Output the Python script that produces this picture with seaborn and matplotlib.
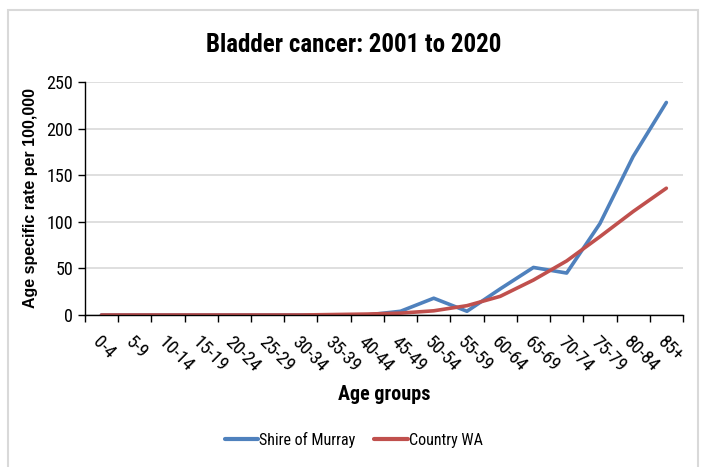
import numpy as np
import pandas as pd
import matplotlib
matplotlib.use('Agg')
import matplotlib.pyplot as plt
from matplotlib.patches import Rectangle
import seaborn as sns

# ---- data ----
age_groups = ['0-4', '5-9', '10-14', '15-19', '20-24', '25-29', '30-34', '35-39',
              '40-44', '45-49', '50-54', '55-59', '60-64', '65-69', '70-74',
              '75-79', '80-84', '85+']
shire_murray = [0, 0, 0, 0, 0, 0, 0, 0, 0, 4, 18, 4, 28, 51, 45, 98, 170, 228]
country_wa   = [0, 0, 0, 0, 0, 0, 0, 0.5, 1, 2, 4.5, 10, 20, 37.5, 58, 84, 111, 136]

series_names  = ['Shire of Murray', 'Country WA']
series_colors = ['#4F81BD', '#C0504D']

df = pd.DataFrame({'pos': list(range(len(age_groups))) * 2,
                   'rate': shire_murray + country_wa,
                   'area': [series_names[0]] * len(age_groups) + [series_names[1]] * len(age_groups)})

sns.set_theme(style='white')
narrow = ['Roboto Condensed', 'Archivo Narrow', 'Liberation Sans', 'DejaVu Sans']
plt.rcParams['font.family'] = narrow
plt.rcParams['text.color'] = 'black'
plt.rcParams['axes.labelcolor'] = 'black'
plt.rcParams['xtick.color'] = 'black'
plt.rcParams['ytick.color'] = 'black'

fig = plt.figure(figsize=(7.07, 4.67), dpi=100)
ax = fig.add_axes([0.120, 0.3255, 0.846, 0.499])

sns.lineplot(data=df, x='pos', y='rate', hue='area', hue_order=series_names,
             palette=series_colors, linewidth=2.6, ax=ax, legend=True)

ax.set_xlim(-0.5, len(age_groups) - 0.5)
ax.set_ylim(0, 250)
ax.set_yticks(np.arange(0, 251, 50))
ax.yaxis.grid(True, color='#D9D9D9', linewidth=1.2)
ax.set_axisbelow(True)
for s in ['top', 'right']:
    ax.spines[s].set_visible(False)
for s in ['left', 'bottom']:
    ax.spines[s].set_color('black')
    ax.spines[s].set_linewidth(1.0)

ax.set_xticks(range(len(age_groups)))
ax.set_xticklabels(age_groups, rotation=-45, ha='left', rotation_mode='anchor', fontsize=13.5)
ax.set_xticks(np.arange(-0.5, len(age_groups), 1), minor=True)
ax.tick_params(axis='x', which='major', length=0, pad=13)
ax.tick_params(axis='x', which='minor', length=5, width=1, color='black', direction='out', bottom=True)
ax.tick_params(axis='y', length=5, width=1, color='black', direction='out', left=True, labelsize=13)

ax.set_xlabel('Age groups', fontsize=14.5, fontweight='bold', labelpad=7)
ax.set_ylabel('Age specific rate per 100,000', fontsize=11.5, fontweight='bold',
              family=['Liberation Sans', 'DejaVu Sans'], labelpad=6)
fig.suptitle('Bladder cancer: 2001 to 2020', fontsize=18, fontweight='bold', y=0.93)

leg = ax.legend(loc='center', ncol=2, frameon=False, fontsize=11.5, handlelength=2.1,
                handletextpad=0.05, columnspacing=1.2)
leg.set_bbox_to_anchor((0.5, 1 - 440 / 467), transform=fig.transFigure)
for line in leg.get_lines():
    line.set_linewidth(3)

fig.patches.append(Rectangle((8 / 707, -0.05), 690 / 707, 1 - 10 / 467 + 0.05,
                             transform=fig.transFigure, fill=False,
                             edgecolor='#D9D9D9', linewidth=1.5))

fig.savefig('out.png', dpi=100)
